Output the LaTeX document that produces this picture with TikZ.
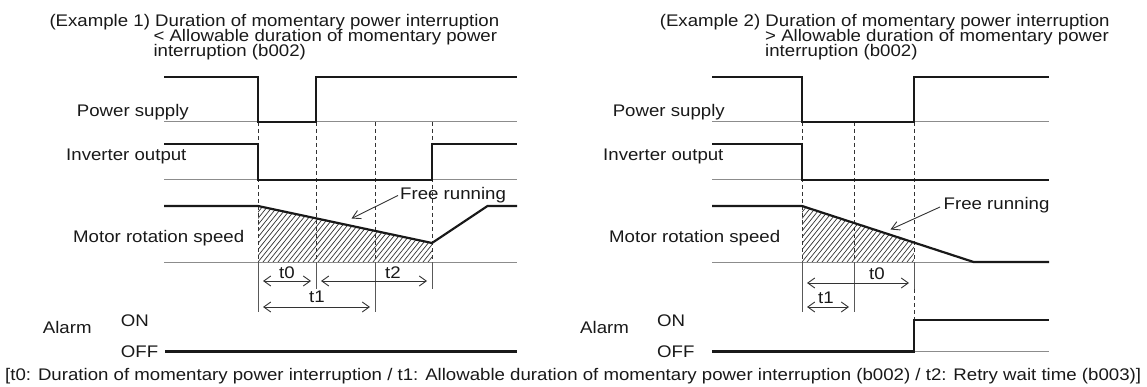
\documentclass[tikz,border=0pt]{standalone}
\usepackage{fontspec}
\setmainfont{Liberation Sans}[FakeStretch=1.11]
\usetikzlibrary{arrows.meta}
\begin{document}
\begin{tikzpicture}[x=1pt,y=-1pt,
  txt/.style={anchor=base west,inner sep=0pt,text=black!90,font=\fontsize{16.8}{18}\selectfont},
  ctxt/.style={anchor=base,inner sep=0pt,text=black!90,font=\fontsize{16.8}{18}\selectfont},
  sig/.style={line width=2.2pt,black!90,line join=miter},
  base/.style={line width=1pt,black!45},
  dsh/.style={line width=0.8pt,black!80,dash pattern=on 4pt off 3pt},
  ext/.style={line width=0.9pt,black!65},
  dim/.style={line width=0.9pt,black!80,{Straight Barb[length=7pt,width=10pt]}-{Straight Barb[length=7pt,width=10pt]}},
  lead/.style={line width=0.9pt,black!80,-{Straight Barb[length=8pt,width=9pt]}},
  hatch/.style={line width=0.7pt,black!80}]
\useasboundingbox (0,0) rectangle (1147,387);

% ---------------- Example 1 ----------------
\node[txt] (t1a) at (49.3,26.5) {(Example 1) Duration of momentary power interruption};
\node[txt] (t1b) at (153.3,41.5) {< Allowable duration of momentary power};
\node[txt] (t1c) at (153.3,56.5) {interruption (b002)};
\node[txt] (ps1) at (76.7,117) {Power supply};
\node[txt] (io1) at (66,160.7) {Inverter output};
\node[txt] (ms1) at (73,242) {Motor rotation speed};
\node[txt] (al1) at (42.7,333.3) {Alarm};
\node[txt] (on1) at (120.7,326.5) {ON};
\node[txt] (of1) at (120.7,357) {OFF};
\node[txt] (fr1) at (400,199.5) {Free running};

% baselines
\draw[base] (164,122) -- (517,122);
\draw[base] (164,180) -- (517,180);
\draw[base] (164,262) -- (517,262);

% hatching
\begin{scope}
  \clip (258,206) -- (432,243) -- (432,262) -- (258,262) -- cycle;
  \foreach \i in {0,...,46} \draw[hatch] (213+\i*5,262) -- ++(45,-56);
\end{scope}

% dashed verticals
\foreach \x in {258,316,375,432} \draw[dsh] (\x,122) -- (\x,262);
% extension lines
\draw[ext] (258,262) -- (258,312);
\draw[ext] (316,262) -- (316,289);
\draw[ext] (375,262) -- (375,312);
\draw[ext] (432,262) -- (432,289);

% signals
\draw[sig] (164,77) -- (258,77) -- (258,122) -- (316,122) -- (316,77) -- (517,77);
\draw[sig] (164,144) -- (258,144) -- (258,180) -- (432,180) -- (432,144) -- (517,144);
\draw[sig] (164,206) -- (258,206) -- (432,243) -- (487.5,206) -- (517,206);
\draw[sig] (165,351.5) -- (517,351.5);

% free running leader
\coordinate (fa1) at (398,195.5);
\coordinate (fb1) at (351.5,218.5);
\draw[lead] (fa1) -- (fb1);

% dimensions
\coordinate (d0a) at (263,281); \coordinate (d0b) at (311,281);
\coordinate (d2a) at (321,281); \coordinate (d2b) at (427,281);
\coordinate (d1a) at (263,307); \coordinate (d1b) at (370,307);
\draw[dim] (d0a) -- (d0b);
\draw[dim] (d2a) -- (d2b);
\draw[dim] (d1a) -- (d1b);
\node[ctxt] (l0a) at (287,278) {t0};
\node[ctxt] (l2a) at (393,278) {t2};
\node[ctxt] (l1a) at (317,302) {t1};

% ---------------- Example 2 ----------------
\node[txt] (t2a) at (659.6,26.5) {(Example 2) Duration of momentary power interruption};
\node[txt] (t2b) at (765,41.5) {> Allowable duration of momentary power};
\node[txt] (t2c) at (765,56.5) {interruption (b002)};
\node[txt] (ps2) at (612.6,117) {Power supply};
\node[txt] (io2) at (603,160.7) {Inverter output};
\node[txt] (ms2) at (609,242) {Motor rotation speed};
\node[txt] (al2) at (580,333.3) {Alarm};
\node[txt] (on2) at (657,326.5) {ON};
\node[txt] (of2) at (657,357) {OFF};
\node[txt] (fr2) at (943.5,210) {Free running};

\draw[base] (712,122) -- (1049,122);
\draw[base] (712,180) -- (1049,180);
\draw[base] (712,262) -- (1049,262);
\draw[base] (914,351.5) -- (1049,351.5);

\begin{scope}
  \clip (802,206) -- (914,242.8) -- (914,262) -- (802,262) -- cycle;
  \foreach \i in {0,...,32} \draw[hatch] (757+\i*5,262) -- ++(45,-56);
\end{scope}

\foreach \x in {802,854,914} \draw[dsh] (\x,122) -- (\x,262);
\draw[ext] (802,262) -- (802,312);
\draw[ext] (854,262) -- (854,312);
\draw[ext] (914,262) -- (914,289);
\draw[dsh] (914,289) -- (914,320);

\draw[sig] (712,77) -- (802,77) -- (802,122) -- (914,122) -- (914,77) -- (1049,77);
\draw[sig] (712,144) -- (802,144) -- (802,180) -- (1049,180);
\draw[sig] (712,206) -- (802,206) -- (973.6,262) -- (1049,262);
\draw[sig] (712,351.5) -- (914,351.5) -- (914,320) -- (1049,320);

\coordinate (fa2) at (940,207);
\coordinate (fb2) at (890.5,229.5);
\draw[lead] (fa2) -- (fb2);

\coordinate (e0a) at (807,283); \coordinate (e0b) at (909,283);
\coordinate (e1a) at (807,307); \coordinate (e1b) at (849,307);
\draw[dim] (e0a) -- (e0b);
\draw[dim] (e1a) -- (e1b);
\node[ctxt] (l0b) at (877,279) {t0};
\node[ctxt] (l1b) at (826,303) {t1};

% footer
\node[txt] (foot) at (5,380) {[t0: Duration of momentary power interruption / t1: Allowable duration of momentary power interruption (b002) / t2: Retry wait time (b003)]};
\end{tikzpicture}
\end{document}
